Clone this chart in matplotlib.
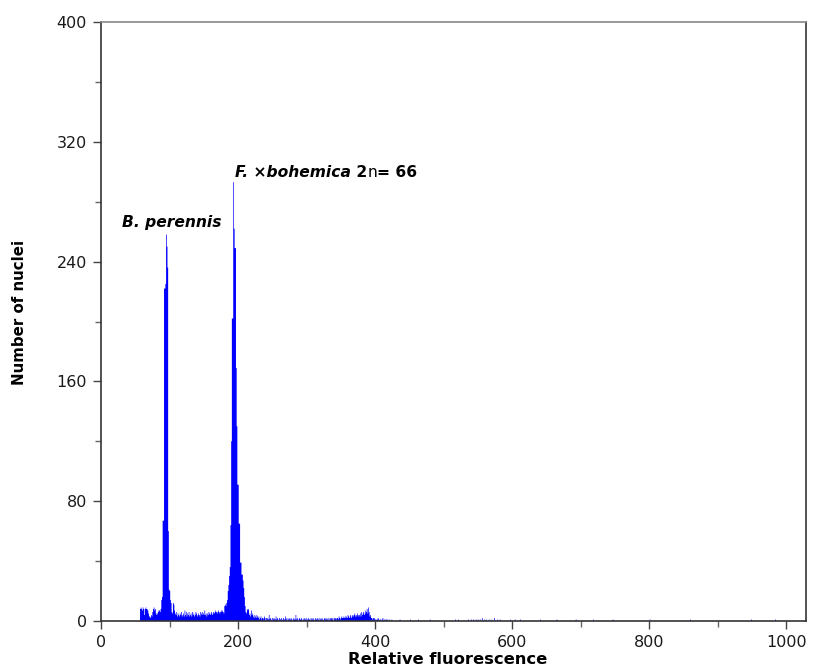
import numpy as np
import matplotlib
matplotlib.use("Agg")
import matplotlib.pyplot as plt
from matplotlib import font_manager
from matplotlib.ticker import MultipleLocator

# Flow cytometry histogram - counts per channel
first_channel = 55
counts = [
    0, 0,
    8, 9, 8, 7, 9, 8, 4, 8, 9, 8, 8, 7, 5, 3, 3, 2, 4, 3, 6, 8,            # 57-76
    9, 7, 8, 5, 4, 5, 6, 7, 7, 6, 8, 14, 16, 67, 67, 222, 222, 225, 258, 250,  # 77-96
    236, 60, 21, 20, 14, 12, 6, 5, 12, 11, 7, 5, 4, 6, 3, 5, 4, 3, 5, 4,   # 97-116
    6, 3, 4, 5, 3, 7, 4, 6, 3, 5, 4, 6, 3, 4, 5, 3, 6, 4, 5, 3,            # 117-136
    4, 6, 5, 3, 4, 5, 4, 3, 6, 5, 4, 6, 5, 4, 7, 4, 5, 3, 5, 4,            # 137-156
    6, 5, 4, 5, 6, 4, 5, 6, 5, 6, 7, 6, 5, 6, 7, 6, 5, 6, 7, 6,            # 157-176
    7, 6, 5, 10, 11, 10, 12, 14, 20, 24, 30, 36, 64, 120, 202, 202, 293, 262, 249, 249,  # 177-196
    169, 130, 91, 91, 65, 65, 39, 39, 31, 31, 27, 22, 16, 10, 6, 5, 8, 7, 8, 4,  # 197-216
    5, 3, 7, 4, 5, 3, 2, 4, 3, 2, 4, 3, 2, 3, 1, 2, 3, 1, 2, 2,            # 217-236
    1, 3, 2, 0, 2, 1, 2, 1, 4, 1, 2, 1, 0, 2, 1, 2, 1, 1, 3, 1,            # 237-256
    2, 1, 0, 2, 1, 1, 2, 0, 1, 2, 1, 1, 3, 1, 2, 0, 1, 2, 1, 1,            # 257-276
    2, 1, 0, 1, 2, 1, 1, 4, 1, 2, 1, 0, 2, 1, 1, 2, 1, 0, 1, 2,            # 277-296
    1, 1, 2, 0, 1, 2, 1, 1, 0, 2, 1, 1, 2, 1, 0, 1, 2, 1, 1, 2,            # 297-316
    1, 0, 2, 1, 1, 2, 1, 0, 1, 2, 1, 2, 1, 1, 2, 0, 1, 2, 1, 2,            # 317-336
    1, 2, 0, 2, 1, 2, 1, 2, 2, 1, 3, 2, 1, 2, 3, 2, 2, 3, 2, 3,            # 337-356
    2, 3, 2, 4, 3, 2, 3, 4, 2, 3, 4, 3, 4, 5, 3, 4, 3, 5, 4, 3,            # 357-376
    4, 5, 3, 6, 4, 5, 6, 4, 5, 7, 6, 8, 5, 9, 6, 3, 4, 2, 2, 1,            # 377-396
    2, 1, 2, 1, 0, 1, 1, 2, 1, 0, 1, 1, 0, 1, 2, 0, 1, 0, 1, 1,            # 397-416
    0, 1, 0, 1,                                                            # 417-420
]

# scattered single events further out
tail_channels = [424, 436, 451, 463, 480, 517, 521, 536, 540, 543, 547, 550,
                 553, 556, 559, 562, 566, 570, 574, 578, 582, 597, 604, 612,
                 641, 665, 693, 718, 747, 801, 860, 949, 984]
tail_counts = [1, 1, 1, 1, 1, 1, 1, 1, 1, 1, 1, 1,
               1, 2, 1, 1, 1, 1, 2, 1, 1, 1, 1, 1,
               1, 1, 1, 1, 1, 1, 1, 1, 1]

n_channels = 1024
hist = np.zeros(n_channels)
hist[first_channel:first_channel + len(counts)] = counts
for c, n in zip(tail_channels, tail_counts):
    hist[c] = n
edges = np.arange(n_channels + 1)

# narrow font for the y label if there is one
names = {f.name for f in font_manager.fontManager.ttflist}
if "Liberation Sans Narrow" in names:
    ylab_font, ylab_size = "Liberation Sans Narrow", 15.5
else:
    ylab_font, ylab_size = "DejaVu Sans", 10.8

fig = plt.figure(figsize=(8.19, 6.71), dpi=100)
ax = fig.add_axes([101 / 819, 1 - 621 / 671, 705 / 819, 599 / 671])

ax.stairs(hist, edges, fill=True, color="#0000ff", linewidth=0.8)

ax.set_xlim(0, 1029)
ax.set_ylim(0, 400)
ax.xaxis.set_major_locator(MultipleLocator(200))
ax.xaxis.set_minor_locator(MultipleLocator(100))
ax.yaxis.set_major_locator(MultipleLocator(80))
ax.yaxis.set_minor_locator(MultipleLocator(40))
ax.tick_params(which="major", length=6, width=1, color="#444444",
               labelsize=11.5, labelcolor="#1a1a1a", pad=4)
ax.tick_params(which="minor", length=4, width=1, color="#666666")
for lab in ax.get_xticklabels() + ax.get_yticklabels():
    lab.set_family("DejaVu Sans")

for side in ["left", "bottom", "right"]:
    ax.spines[side].set_color("#333333")
    ax.spines[side].set_linewidth(1.2)
ax.spines["top"].set_color("#888888")
ax.spines["top"].set_linewidth(1.2)

fig.text(448 / 819, 1 - 659 / 671, "Relative fluorescence", ha="center",
         va="center", fontsize=11.8, fontweight="bold", family="DejaVu Sans")
fig.text(20 / 819, 1 - 312 / 671, "Number of nuclei", ha="center",
         va="center", rotation=90, fontsize=ylab_size, fontweight="bold",
         family=ylab_font)

# peak labels
ax.text(30.5, 263, "B. perennis", fontsize=11.2, fontweight="bold",
        fontstyle="italic", family="DejaVu Sans", va="baseline")
t1 = ax.text(195.5, 296.5, "F. \u00d7bohemica", fontsize=11.2,
             fontweight="bold", fontstyle="italic", family="DejaVu Sans",
             va="baseline")
t2 = ax.annotate(" 2", xy=(1, 0), xycoords=t1, ha="left", va="bottom",
                 fontsize=11.2, fontweight="bold", family="DejaVu Sans")
t3 = ax.annotate("n", xy=(1, 0), xycoords=t2, ha="left", va="bottom",
                 fontsize=11.2, family="DejaVu Sans")
ax.annotate("= 66", xy=(1, 0), xycoords=t3, ha="left", va="bottom",
            fontsize=11.2, fontweight="bold", family="DejaVu Sans")

fig.savefig("out.png", dpi=100)
